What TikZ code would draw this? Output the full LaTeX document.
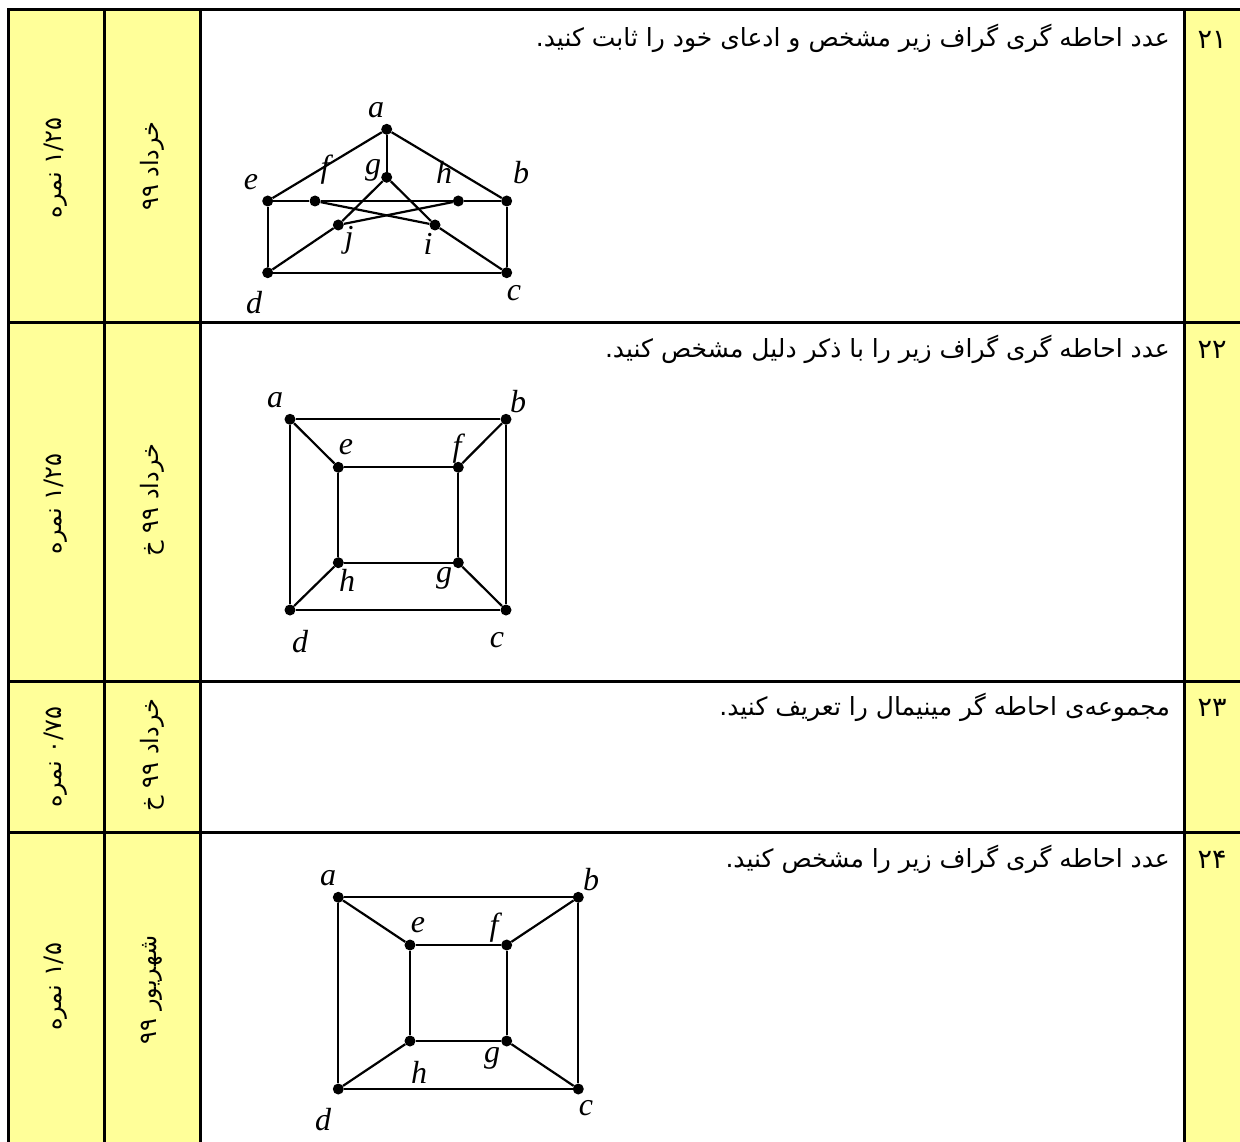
\documentclass[tikz,border=0pt]{standalone}
\usepackage{fontspec}
\setmainfont{Liberation Serif}
\newfontfamily\fa[Script=Arabic]{DejaVu Sans}
\TeXXeTstate=1
\definecolor{cellyellow}{RGB}{255,255,153}
\tikzset{
  tbl/.style={line width=3pt, black},
  edge/.style={line width=2.2pt, black},
  vtx/.style={circle, fill=black, inner sep=0pt, minimum size=11pt},
  lbl/.style={font=\fontsize{32}{36}\selectfont\itshape, inner sep=0pt},
  fatext/.style={font=\fa\fontsize{25}{30}\selectfont, inner sep=0pt},
  numtext/.style={font=\fa\fontsize{27}{32}\selectfont, inner sep=0pt},
  sidetext/.style={font=\fa\fontsize{24}{28}\selectfont, inner sep=0pt, rotate=90},
}
\begin{document}
\begin{tikzpicture}[x=1pt,y=-1pt]
\useasboundingbox (0,0) rectangle (1240,1142);
% yellow columns
\fill[cellyellow] (8,10) rectangle (200,1142);
\fill[cellyellow] (1184,10) rectangle (1240,1142);
% table grid
\draw[tbl] (8,1142) -- (8,10) -- (1240,10);
\draw[tbl] (104,10) -- (104,1142);
\draw[tbl] (200,10) -- (200,1142);
\draw[tbl] (1184,10) -- (1184,1142);
\draw[tbl] (8,322) -- (1240,322);
\draw[tbl] (8,681) -- (1240,681);
\draw[tbl] (8,832) -- (1240,832);

% side columns
\node[sidetext] (p21) at (56,168) {\beginR ۱/۲۵ نمره\endR};
\node[sidetext] (d21) at (152,166) {\beginR خرداد ۹۹\endR};
\node[sidetext] (p22) at (56,504) {\beginR ۱/۲۵ نمره\endR};
\node[sidetext] (d22) at (152,500) {\beginR خرداد ۹۹ خ\endR};
\node[sidetext] (p23) at (56,757) {\beginR ۰/۷۵ نمره\endR};
\node[sidetext] (d23) at (152,755) {\beginR خرداد ۹۹ خ\endR};
\node[sidetext] (p24) at (56,987) {\beginR ۱/۵ نمره\endR};
\node[sidetext] (d24) at (152,990) {\beginR شهریور ۹۹\endR};

% numbers
\node[numtext] (n21) at (1212,40) {\beginR ۲۱\endR};
\node[numtext] (n22) at (1212,350) {\beginR ۲۲\endR};
\node[numtext] (n23) at (1212,708) {\beginR ۲۳\endR};
\node[numtext] (n24) at (1212,860) {\beginR ۲۴\endR};

% questions
\node[fatext, anchor=east] (q21) at (1170,38) {\beginR عدد احاطه گری گراف زیر مشخص و ادعای خود را ثابت کنید.\endR};
\node[fatext, anchor=east] (q22) at (1170,349) {\beginR عدد احاطه گری گراف زیر را با ذکر دلیل مشخص کنید.\endR};
\node[fatext, anchor=east] (q23) at (1170,707) {\beginR مجموعه‌ی احاطه گر مینیمال را تعریف کنید.\endR};
\node[fatext, anchor=east] (q24) at (1170,859) {\beginR عدد احاطه گری گراف زیر را مشخص کنید.\endR};

% ---------- graph 1 (Petersen) ----------
\begin{scope}
\node[vtx] (A) at (386.7,129.3) {};
\node[vtx] (G) at (386.7,177.3) {};
\node[vtx] (E) at (267.7,201) {};
\node[vtx] (F) at (315,201) {};
\node[vtx] (H) at (458.3,201) {};
\node[vtx] (B) at (506.7,201) {};
\node[vtx] (J) at (338.3,225) {};
\node[vtx] (I) at (435,225) {};
\node[vtx] (D) at (267.7,272.7) {};
\node[vtx] (C) at (506.7,272.7) {};
\draw[edge] (A) -- (E);
\draw[edge] (A) -- (B);
\draw[edge] (A) -- (G);
\draw[edge] (E) -- (F);
\draw[edge] (F) -- (H);
\draw[edge] (H) -- (B);
\draw[edge] (B) -- (C);
\draw[edge] (C) -- (D);
\draw[edge] (D) -- (E);
\draw[edge] (F) -- (I);
\draw[edge] (H) -- (J);
\draw[edge] (G) -- (J);
\draw[edge] (G) -- (I);
\draw[edge] (D) -- (J);
\draw[edge] (C) -- (I);
\node[lbl] (la) at (376,110) {a};
\node[lbl] (lf) at (325,170) {f};
\node[lbl] (lg) at (373,170) {g};
\node[lbl] (lh) at (444,172) {h};
\node[lbl] (lb) at (521,173) {b};
\node[lbl] (le) at (251,182) {e};
\node[lbl] (lj) at (349,240) {j};
\node[lbl] (li) at (428,244) {i};
\node[lbl] (ld) at (254,303) {d};
\node[lbl] (lc) at (514,293) {c};
\end{scope}

% ---------- graph 2 ----------
\begin{scope}
\node[vtx] (A2) at (290,419.3) {};
\node[vtx] (B2) at (506,419.3) {};
\node[vtx] (E2) at (338.3,467.3) {};
\node[vtx] (F2) at (458.3,467.3) {};
\node[vtx] (H2) at (338.3,562.7) {};
\node[vtx] (G2) at (458.3,562.7) {};
\node[vtx] (D2) at (290,610) {};
\node[vtx] (C2) at (506,610) {};
\draw[edge] (A2) -- (B2);
\draw[edge] (B2) -- (C2);
\draw[edge] (C2) -- (D2);
\draw[edge] (D2) -- (A2);
\draw[edge] (E2) -- (F2);
\draw[edge] (F2) -- (G2);
\draw[edge] (G2) -- (H2);
\draw[edge] (H2) -- (E2);
\draw[edge] (A2) -- (E2);
\draw[edge] (B2) -- (F2);
\draw[edge] (C2) -- (G2);
\draw[edge] (D2) -- (H2);
\node[lbl] (la2) at (275,400) {a};
\node[lbl] (lb2) at (518,402) {b};
\node[lbl] (le2) at (346,447) {e};
\node[lbl] (lf2) at (457,449) {f};
\node[lbl] (lh2) at (347,580) {h};
\node[lbl] (lg2) at (444,578) {g};
\node[lbl] (ld2) at (300,642) {d};
\node[lbl] (lc2) at (497,640) {c};
\end{scope}

% ---------- graph 3 ----------
\begin{scope}
\node[vtx] (A3) at (338.3,897.3) {};
\node[vtx] (B3) at (578.3,897.3) {};
\node[vtx] (E3) at (410,945) {};
\node[vtx] (F3) at (506.7,945) {};
\node[vtx] (H3) at (410,1041) {};
\node[vtx] (G3) at (506.7,1041) {};
\node[vtx] (D3) at (338.3,1089) {};
\node[vtx] (C3) at (578.3,1089) {};
\draw[edge] (A3) -- (B3);
\draw[edge] (B3) -- (C3);
\draw[edge] (C3) -- (D3);
\draw[edge] (D3) -- (A3);
\draw[edge] (E3) -- (F3);
\draw[edge] (F3) -- (G3);
\draw[edge] (G3) -- (H3);
\draw[edge] (H3) -- (E3);
\draw[edge] (A3) -- (E3);
\draw[edge] (B3) -- (F3);
\draw[edge] (C3) -- (G3);
\draw[edge] (D3) -- (H3);
\node[lbl] (la3) at (328,878) {a};
\node[lbl] (lb3) at (591,880) {b};
\node[lbl] (le3) at (418,925) {e};
\node[lbl] (lf3) at (494,928) {f};
\node[lbl] (lh3) at (419,1072) {h};
\node[lbl] (lg3) at (492,1058) {g};
\node[lbl] (ld3) at (323,1120) {d};
\node[lbl] (lc3) at (586,1108) {c};
\end{scope}
\end{tikzpicture}
\end{document}
